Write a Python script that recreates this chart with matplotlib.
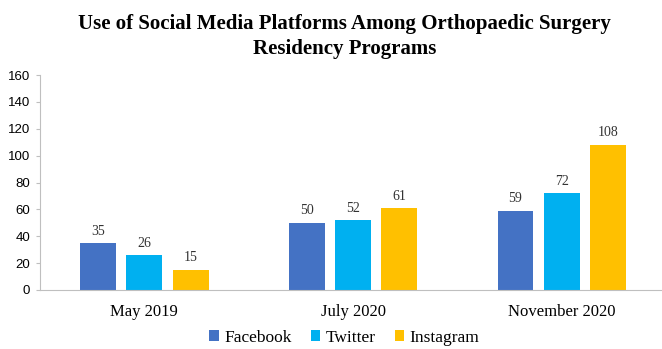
import numpy as np
import matplotlib.pyplot as plt

periods = ['May 2019', 'July 2020', 'November 2020']
platforms = ['Facebook', 'Twitter', 'Instagram']
facebook = [35, 50, 59]
twitter = [26, 52, 72]
instagram = [15, 61, 108]
colors = ['#4472C4', '#00B0F0', '#FFC000']

fig = plt.figure(figsize=(6.62, 3.49), dpi=100)
ax = fig.add_axes([40 / 662, 59 / 349, 622 / 662, 215 / 349])

x = np.arange(len(periods))
width = 0.172
pitch = 0.222
serif = 'Liberation Serif'

for k, (vals, name) in enumerate(zip([facebook, twitter, instagram], platforms)):
    bars = ax.bar(x + (k - 1) * pitch, vals, width, color=colors[k], label=name)
    for b, v in zip(bars, vals):
        ax.text(b.get_x() + b.get_width() / 2, v + 4, str(v), ha='center', va='bottom',
                fontsize=10, family=serif, color='#333333')

ax.set_xlim(-0.5, 2.48)
ax.set_ylim(0, 160)
ax.set_yticks(range(0, 161, 20))
ax.set_xticks(x)
ax.set_xticklabels(periods, family=serif, fontsize=12)
ax.tick_params(axis='x', length=0, pad=10)
ax.tick_params(axis='y', length=3, color='#BFBFBF', labelsize=9.5, pad=4)
for lab in ax.get_yticklabels():
    lab.set_family('Liberation Sans')

for s in ['top', 'right']:
    ax.spines[s].set_visible(False)
for s in ['left', 'bottom']:
    ax.spines[s].set_color('#BFBFBF')

fig.suptitle('Use of Social Media Platforms Among Orthopaedic Surgery\nResidency Programs',
             x=0.52, y=0.96, fontsize=15, fontweight='bold', family=serif, linespacing=1.35)

fig.legend(loc='lower center', bbox_to_anchor=(0.52, -0.035), ncol=3, frameon=False,
           prop={'family': serif, 'size': 12.5}, handlelength=0.55, handleheight=0.55,
           handletextpad=0.3, columnspacing=1.1)

fig.savefig('out.png', dpi=100)
